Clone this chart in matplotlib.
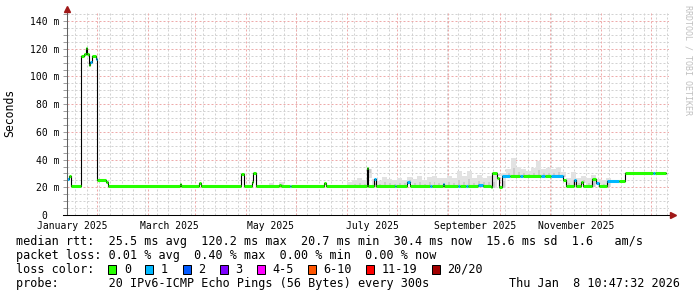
import matplotlib
matplotlib.use('Agg')
import matplotlib.pyplot as plt
import matplotlib.dates as mdates
from matplotlib.patches import Rectangle
import numpy as np
import pandas as pd

# median rtt as steps: start time, value (ms), lost pings in that step
seg_start = [
    '2024-12-14 00:00', '2024-12-15 05:00', '2024-12-16 05:00', '2024-12-22 07:00',
    '2024-12-22 15:00', '2024-12-24 00:00', '2024-12-25 05:00', '2024-12-25 22:00',
    '2024-12-27 02:00', '2024-12-27 22:00', '2024-12-28 22:00', '2024-12-31 05:00',
    '2025-01-01 00:00', '2025-01-06 12:00', '2025-01-08 00:00', '2025-02-20 00:00',
    '2025-02-21 00:00', '2025-03-03 12:00', '2025-03-05 00:00', '2025-03-29 00:00',
    '2025-03-30 18:00', '2025-04-04 10:00', '2025-04-05 06:00', '2025-04-07 00:00',
    '2025-04-21 00:00', '2025-04-22 00:00', '2025-04-27 12:00', '2025-04-28 06:00',
    '2025-05-18 00:00', '2025-05-19 00:00', '2025-06-12 18:00', '2025-06-13 18:00',
    '2025-06-17 06:00', '2025-06-18 10:00', '2025-06-29 18:00', '2025-06-30 12:00',
    '2025-07-06 22:00', '2025-07-08 22:00', '2025-07-21 00:00', '2025-07-22 00:00',
    '2025-07-28 12:00', '2025-07-29 12:00', '2025-08-07 00:00', '2025-08-08 00:00',
    '2025-08-11 16:00', '2025-08-12 12:00', '2025-08-19 00:00', '2025-08-22 00:00',
    '2025-08-26 10:00', '2025-08-27 04:00', '2025-08-30 12:00', '2025-08-31 16:00',
    '2025-09-02 04:00', '2025-09-07 00:00', '2025-09-13 00:00', '2025-09-15 00:00',
    '2025-09-26 00:00', '2025-09-28 00:00', '2025-10-02 00:00', '2025-10-09 06:00',
    '2025-10-11 00:00', '2025-10-15 10:00', '2025-10-16 16:00', '2025-10-20 00:00',
    '2025-10-21 04:00', '2025-10-26 12:00', '2025-10-29 00:00', '2025-10-30 12:00',
    '2025-11-04 12:00', '2025-11-12 00:00', '2025-11-15 14:00', '2025-12-02 10:00',
    '2025-12-03 10:00',
]
seg_end = '2025-12-10 06:00'
seg_rtt = [
    25.8, 27.8, 20.9, 98.0,
    114.5, 116.5, 120.3, 116.5,
    108.0, 110.5, 114.5, 112.5,
    25.3, 23.8, 20.9, 22.3,
    20.9, 22.8, 20.9, 29.6,
    20.9, 24.0, 30.5, 20.9,
    22.0, 20.9, 20.9, 20.9,
    22.8, 20.9, 33.7, 20.9,
    26.0, 21.1, 21.1, 21.1,
    24.0, 21.1, 21.1, 21.1,
    22.4, 21.1, 21.1, 21.1,
    21.1, 21.1, 21.6, 21.2,
    20.0, 30.5, 26.5, 20.4,
    28.2, 28.4, 28.2, 28.3,
    28.2, 28.4, 28.2, 25.3,
    21.0, 25.3, 21.0, 24.0,
    21.0, 26.2, 22.8, 20.6,
    24.5, 24.6, 30.3, 30.3,
    30.3,
]
seg_loss = [
    1, 0, 0, 1,
    0, 0, 0, 0,
    0, 1, 0, 1,
    0, 0, 0, 0,
    0, 0, 0, 0,
    0, 0, 0, 0,
    0, 0, 1, 0,
    0, 0, 0, 0,
    1, 0, 1, 0,
    1, 0, 1, 0,
    1, 0, 1, 0,
    1, 0, 1, 0,
    0, 0, 0, 0,
    1, 0, 1, 0,
    1, 0, 1, 0,
    0, 1, 0, 0,
    0, 0, 1, 0,
    1, 0, 0, 1,
    0,
]

# smoke: upper edge of the ping spread (ms), 3-day bins
smoke_date = ['2025-04-15', '2025-04-21'] + \
    list(pd.date_range('2025-06-01', '2025-11-13', freq='3D').strftime('%Y-%m-%d'))
smoke_top = [
    23.3, 24.0,
    24.0, 25.5, 26.5, 25.0, 27.0, 26.0, 24.5, 27.5, 26.0, 25.0,
    27.0, 25.5, 27.2, 26.0, 28.0, 25.0, 27.5, 28.1, 26.5, 27.0,
    28.0, 27.0, 31.7, 28.5, 32.0, 27.0, 29.0, 26.5, 28.0, 29.0,
    28.0, 30.0, 33.0, 41.0, 35.0, 33.0, 31.5, 34.0, 39.0, 33.0,
    34.0, 33.0, 35.0, 31.0, 27.0, 30.8, 27.0, 28.0, 26.5, 29.0,
    26.0, 25.0, 26.5, 25.5, 24.0, 25.0,
]

loss_labels = ['0', '1', '2', '3', '4-5', '6-10', '11-19', '20/20']
loss_colors = ['#26ff00', '#00b8ff', '#0059ff', '#7e00ff',
               '#ff00ff', '#ff5500', '#ff0000', '#a10000']

month_labels = ['January 2025', 'March 2025', 'May 2025',
                'July 2025', 'September 2025', 'November 2025']
month_label_at = ['2025-01-01', '2025-03-01', '2025-05-01',
                  '2025-07-01', '2025-09-01', '2025-11-01']

stats_lines = [
    'median rtt:  25.5 ms avg  120.2 ms max  20.7 ms min  30.4 ms now  15.6 ms sd  1.6   am/s',
    'packet loss: 0.01 % avg  0.40 % max  0.00 % min  0.00 % now',
]
probe_line = 'probe:       20 IPv6-ICMP Echo Pings (56 Bytes) every 300s'
stamp = 'Thu Jan  8 10:47:32 2026'

MONO = 'DejaVu Sans Mono'
plt.rcParams['font.family'] = MONO


def main():
    W, H = 697, 297
    fig = plt.figure(figsize=(W / 100, H / 100), dpi=100)
    fig.patch.set_facecolor('white')
    ax = fig.add_axes([67 / W, (H - 215) / H, (669 - 67) / W, (215 - 13) / H])
    ax.set_facecolor('white')

    xmin = mdates.date2num(pd.Timestamp('2024-12-14'))
    xmax = mdates.date2num(pd.Timestamp('2025-12-12'))
    ymax = 145.8
    ax.set_xlim(xmin, xmax)
    ax.set_ylim(0, ymax)

    # grid, rrdtool style dotted
    grid_kw = dict(lw=0.72, ls=(0, (2, 2)))
    for d in pd.date_range('2024-12-19', '2025-12-11', freq='7D'):
        ax.axvline(mdates.date2num(d), color='#d2d2d2', zorder=0.5, **grid_kw)
    for v in range(5, 146, 5):
        if v % 20:
            ax.axhline(v, color='#d2d2d2', zorder=0.5, **grid_kw)
    for d in pd.date_range('2025-01-01', '2025-12-01', freq='MS'):
        ax.axvline(mdates.date2num(d), color='#eeaaaa', zorder=0.6, **grid_kw)
    for v in range(20, 141, 20):
        ax.axhline(v, color='#eeaaaa', zorder=0.6, **grid_kw)

    starts = mdates.date2num(pd.to_datetime(seg_start))
    end = mdates.date2num(pd.Timestamp(seg_end))
    ends = np.append(starts[1:], end)
    rtt = np.array(seg_rtt)

    # smoke
    sx = mdates.date2num(pd.to_datetime(smoke_date))
    idx = np.searchsorted(starts, sx, side='right') - 1
    base = rtt[idx] - 0.6
    top = np.array(smoke_top)
    ax.bar(sx, top - base, bottom=base, width=3, align='edge',
           color='#e2e2e2', lw=0, zorder=1)
    ax.bar(sx + 1, (top - base) * 0.45, bottom=base, width=1.2, align='edge',
           color='#cccccc', lw=0, zorder=1.1)

    # median line: thin black steps, thick loss-coloured levels
    ax.step(np.append(starts, end), np.append(rtt, rtt[-1]), where='post',
            color='black', lw=0.8, zorder=2)
    ax.hlines(rtt, starts, ends, colors=[loss_colors[l] for l in seg_loss],
              lw=2.2, zorder=3)

    # axes
    for s in ax.spines.values():
        s.set_visible(False)
    ax.plot([0, 0], [0, 1 + 4 / 202], transform=ax.transAxes, color='#606060',
            lw=0.75, clip_on=False, zorder=4)
    ax.plot([-4 / 602, 1 + 3 / 602], [0, 0], transform=ax.transAxes, color='black',
            lw=0.75, clip_on=False, zorder=4)
    ax.plot([0], [1 + 4 / 202], transform=ax.transAxes, marker='^', ms=4,
            color='#a01818', clip_on=False, zorder=5)
    ax.plot([1 + 4 / 602], [0], transform=ax.transAxes, marker='>', ms=4,
            color='#a01818', clip_on=False, zorder=5)

    yt = list(range(0, 141, 20))
    ax.set_yticks(yt)
    ax.set_yticklabels(['0  ' if v == 0 else '%d m' % v for v in yt])
    ax.set_yticks(range(5, 146, 5), minor=True)
    ax.tick_params(axis='y', which='both', length=2.9, width=0.72,
                   color='#a0a0a0', pad=2.7, labelsize=7)

    ax.set_xticks([mdates.date2num(pd.Timestamp(d) - pd.Timedelta(days=15))
                   for d in month_label_at])
    ax.set_xticklabels(month_labels)
    ax.tick_params(axis='x', length=0, pad=4, labelsize=7)

    fig.text(10 / W, 1 - 113 / H, 'Seconds', rotation=90, ha='center',
             va='center', fontsize=8.3)
    fig.text(688 / W, 1 - 5 / H, 'RRDTOOL / TOBI OETIKER', rotation=270,
             ha='center', va='top', fontsize=6, color='#c0c0c0')

    # legend block
    fs = 8.5
    cw = fs * 100 / 72 * 0.602
    fig.text(16 / W, 1 - 241.5 / H, stats_lines[0], va='center', fontsize=fs)
    fig.text(16 / W, 1 - 255.3 / H, stats_lines[1], va='center', fontsize=fs)
    fig.text(16 / W, 1 - 269.3 / H, 'loss color:', va='center', fontsize=fs)
    fig.text(16 / W, 1 - 283.3 / H, probe_line, va='center', fontsize=fs)
    fig.text(680 / W, 1 - 283.3 / H, stamp, ha='right', va='center', fontsize=fs)

    bx = 108.3
    for lab, col in zip(loss_labels, loss_colors):
        fig.add_artist(Rectangle((bx / W, 1 - 273.5 / H), 8 / W, 9 / H,
                                 transform=fig.transFigure, facecolor=col,
                                 edgecolor='black', lw=0.72))
        tx = bx + 15.5
        fig.text(tx / W, 1 - 269.3 / H, lab, va='center', fontsize=fs)
        bx = tx + len(lab) * cw + 14.5

    fig.savefig('out.png', dpi=100)


if __name__ == '__main__':
    main()
